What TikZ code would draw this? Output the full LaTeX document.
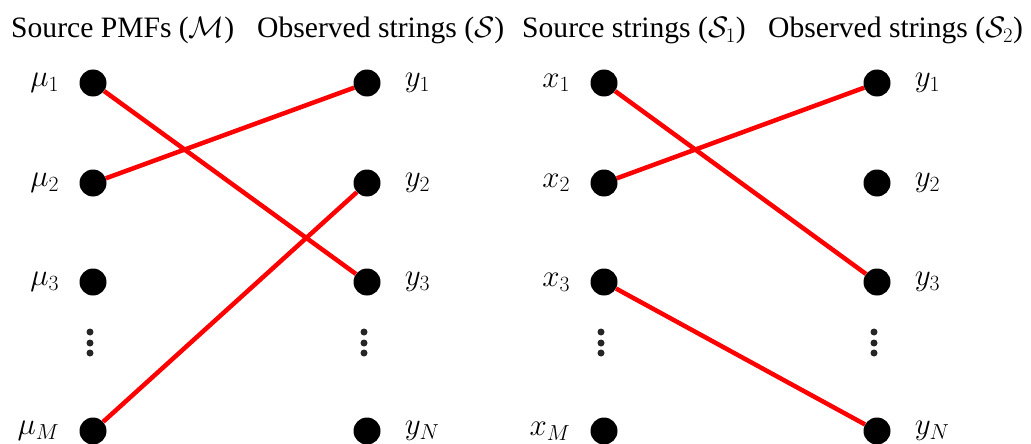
\RequirePackage{fix-cm}
\documentclass[tikz,border=0pt]{standalone}
\usepackage{fontspec}
\setmainfont{Liberation Serif}
\usetikzlibrary{positioning}
\tikzset{
  dot/.style={circle,fill=black,inner sep=0pt,minimum size=27pt},
  link/.style={red,line width=4.5pt},
  lbl/.style={inner sep=0pt,font=\fontsize{31}{36}\selectfont},
  head/.style={inner sep=0pt,anchor=base west,font=\fontsize{29.6}{34}\selectfont},
}
\begin{document}
\begin{tikzpicture}[x=1pt,y=-1pt]
  \useasboundingbox (0,0) rectangle (1031,444);

  % column headings
  \node[head] (hM)  at (11,38)  {Source PMFs ($\mathcal{M}$)};
  \node[head] (hS)  at (257,38) {Observed strings ($\mathcal{S}$)};
  \node[head] (hS1) at (522,38) {Source strings ($\mathcal{S}_1$)};
  \node[head] (hS2) at (768,38) {Observed strings ($\mathcal{S}_2$)};

  \def\xA{93}% source PMFs
  \def\xB{367}% observed strings
  \def\xC{604}% source strings
  \def\xD{877}% observed strings, second graph

  % first graph
  \node[dot] (m1) at (\xA,83)  {};
  \node[dot] (m2) at (\xA,183) {};
  \node[dot] (m3) at (\xA,282) {};
  \node[dot] (mM) at (\xA,431) {};
  \node[dot] (ya1) at (\xB,83)  {};
  \node[dot] (ya2) at (\xB,183) {};
  \node[dot] (ya3) at (\xB,282) {};
  \node[dot] (yaN) at (\xB,431) {};

  \node[lbl, left=20pt of m1] (lm1) {$\mu_1$};
  \node[lbl, left=20pt of m2] (lm2) {$\mu_2$};
  \node[lbl, left=20pt of m3] (lm3) {$\mu_3$};
  \node[lbl, left=20pt of mM] (lmM) {$\mu_M$};
  \node[lbl, right=24pt of ya1] (lya1) {$y_1$};
  \node[lbl, right=24pt of ya2] (lya2) {$y_2$};
  \node[lbl, right=24pt of ya3] (lya3) {$y_3$};
  \node[lbl, right=24pt of yaN] (lyaN) {$y_N$};

  \draw[link] (m1) -- (ya3);
  \draw[link] (m2) -- (ya1);
  \draw[link] (mM) -- (ya2);

  % second graph
  \node[dot] (x1) at (\xC,83)  {};
  \node[dot] (x2) at (\xC,183) {};
  \node[dot] (x3) at (\xC,282) {};
  \node[dot] (xM) at (\xC,431) {};
  \node[dot] (yb1) at (\xD,83)  {};
  \node[dot] (yb2) at (\xD,183) {};
  \node[dot] (yb3) at (\xD,282) {};
  \node[dot] (ybN) at (\xD,431) {};

  \node[lbl, left=20pt of x1] (lx1) {$x_1$};
  \node[lbl, left=20pt of x2] (lx2) {$x_2$};
  \node[lbl, left=20pt of x3] (lx3) {$x_3$};
  \node[lbl, left=20pt of xM] (lxM) {$x_M$};
  \node[lbl, right=24pt of yb1] (lyb1) {$y_1$};
  \node[lbl, right=24pt of yb2] (lyb2) {$y_2$};
  \node[lbl, right=24pt of yb3] (lyb3) {$y_3$};
  \node[lbl, right=24pt of ybN] (lybN) {$y_N$};

  \draw[link] (x1) -- (yb3);
  \draw[link] (x2) -- (yb1);
  \draw[link] (x3) -- (ybN);

  % vertical dots
  \foreach \cx in {\xA,\xB,\xC,\xD}
    \foreach \cy in {332,343,353}
      \fill[black!85] (\cx-3,\cy) circle (3.5pt);
\end{tikzpicture}
\end{document}
